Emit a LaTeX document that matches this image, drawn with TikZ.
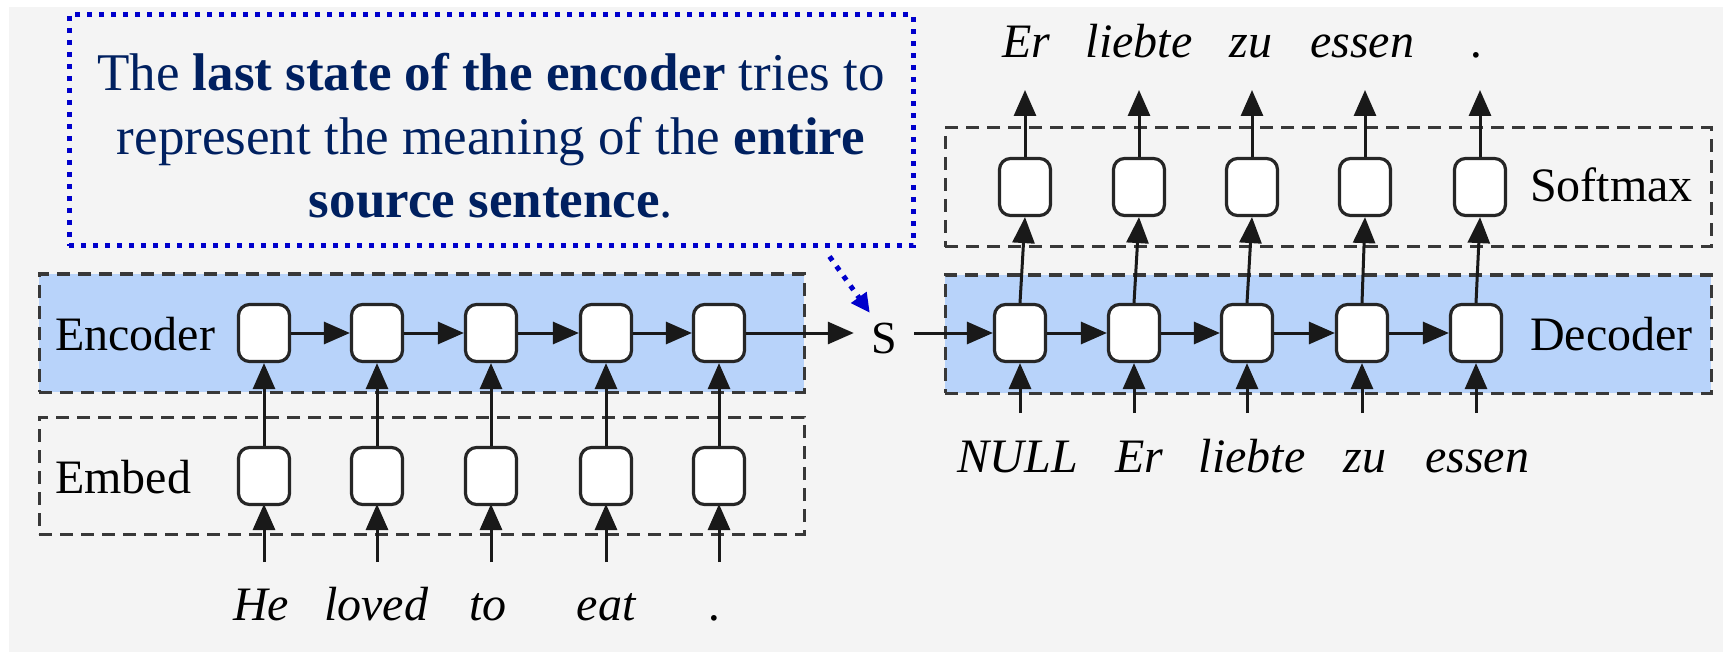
\documentclass[tikz,border=0pt]{standalone}
\usepackage{fontspec}
\setmainfont{Liberation Serif}
\usetikzlibrary{arrows.meta}
\definecolor{bggray}{HTML}{F4F4F4}
\definecolor{layerblue}{HTML}{B8D3FA}
\definecolor{noteblue}{HTML}{0000CC}
\definecolor{notetext}{HTML}{002060}
\tikzset{
  layer/.style={draw=black!78, line width=3pt, dash pattern=on 13pt off 8pt,
    inner sep=0, minimum width=766pt, minimum height=118pt},
  cell/.style={draw=black!85, line width=3.2pt, fill=white, rounded corners=11pt,
    minimum width=51pt, minimum height=57pt, inner sep=0},
  flow/.style={line width=3pt, draw=black!90, -{Triangle[length=26pt,width=22pt]}},
  lbl/.style={font=\fontsize{48}{56}\selectfont, inner sep=0, anchor=base},
  word/.style={font=\fontsize{48}{56}\selectfont\itshape, inner sep=0, anchor=base},
  notebox/.style={draw=noteblue, line width=5pt, dash pattern=on 5pt off 7pt,
    inner sep=0, minimum width=844pt, minimum height=231pt},
  notetxt/.style={font=\fontsize{53}{64}\selectfont, text=notetext, inner sep=0, anchor=base},
  notearrow/.style={draw=noteblue, line width=5pt, dash pattern=on 5pt off 7pt,
    -{Triangle[length=19pt,width=18pt]}}
}
\begin{document}
\begin{tikzpicture}[x=1pt,y=-1pt]
\useasboundingbox (0,0) rectangle (1723,652);
\fill[white] (0,0) rectangle (1723,652);
\fill[bggray] (9,7) rectangle (1723,652);

% layer frames
\node[layer, fill=layerblue, minimum width=765pt] (encL) at (421.5,333) {};
\node[layer, minimum width=765pt, minimum height=117pt] (embL) at (421.5,475.5) {};
\node[layer, minimum height=119pt] (smxL) at (1328,187.5) {};
\node[layer, fill=layerblue] (decL) at (1328,334) {};

% layer names
\node[lbl, anchor=base west] (encName) at (55,350) {Encoder};
\node[lbl, anchor=base west] (embName) at (55,493) {Embed};
\node[lbl, anchor=base east] (smxName) at (1693,202) {Softmax};
\node[lbl, anchor=base east] (decName) at (1693,350) {Decoder};

% encoder side
\foreach \i/\x in {1/264,2/377,3/491,4/606,5/719}{
  \coordinate (src\i) at (\x,562);
  \draw[flow] (src\i) -- (\x,504);
}
\foreach \i/\x in {1/264,2/377,3/491,4/606,5/719}{
  \node[cell] (emb\i) at (\x,476) {};
  \node[cell] (enc\i) at (\x,333) {};
}
\foreach \i in {1,...,5}{
  \draw[flow] (emb\i.north) -- (enc\i.south);
}
\foreach \i/\j in {1/2,2/3,3/4,4/5}{
  \draw[flow] (enc\i.east) -- (enc\j.west);
}
\foreach \i/\x/\w in {1/261/He,2/376/loved,3/488/to,4/606/eat,5/715/.}{
  \node[word] (inw\i) at (\x,620) {\w};
}

% summary vector
\node[font=\fontsize{46}{50}\selectfont, inner sep=0, minimum width=60pt, minimum height=40pt] (S) at (884,338) {S};
\draw[flow] (enc5.east) -- (enc5.east -| S.west);

% decoder side
\foreach \i/\x/\sx in {1/1020/1025,2/1134/1139,3/1247/1252,4/1362/1365,5/1476/1480}{
  \coordinate (dsrc\i) at (\x,413);
  \coordinate (out\i) at (\sx,90);
  \node[cell] (dec\i) at (\x,333) {};
  \node[cell] (smx\i) at (\sx,187) {};
}
\draw[flow] (dec1.west -| S.east) -- (dec1.west);
\foreach \i/\j in {1/2,2/3,3/4,4/5}{
  \draw[flow] (dec\i.east) -- (dec\j.west);
}
\foreach \i in {1,...,5}{
  \draw[flow] (dsrc\i) -- (dec\i.south);
  \draw[flow] (dec\i.north) -- (smx\i.south);
  \draw[flow] (smx\i.north) -- (out\i);
}
\foreach \i/\x/\w in {1/1018/NULL,2/1139/Er,3/1252/liebte,4/1365/zu,5/1477/essen}{
  \node[word] (prev\i) at (\x,472) {\w};
}
\foreach \i/\x/\w in {1/1026/Er,2/1139/liebte,3/1251/zu,4/1362/essen,5/1477/.}{
  \node[word] (outw\i) at (\x,58) {\w};
}

% note
\node[notebox] (note) at (491,130.5) {};
\node[notetxt] (noteA) at (491,91) {The \textbf{last state of the encoder} tries to};
\node[notetxt] (noteB) at (491,155) {represent the meaning of the \textbf{entire}};
\node[notetxt] (noteC) at (491,218) {\textbf{source sentence}.};
\draw[notearrow] ([shift={(-86,8)}]note.south east) -- ([shift={(16,-5)}]S.north west);
\end{tikzpicture}
\end{document}
